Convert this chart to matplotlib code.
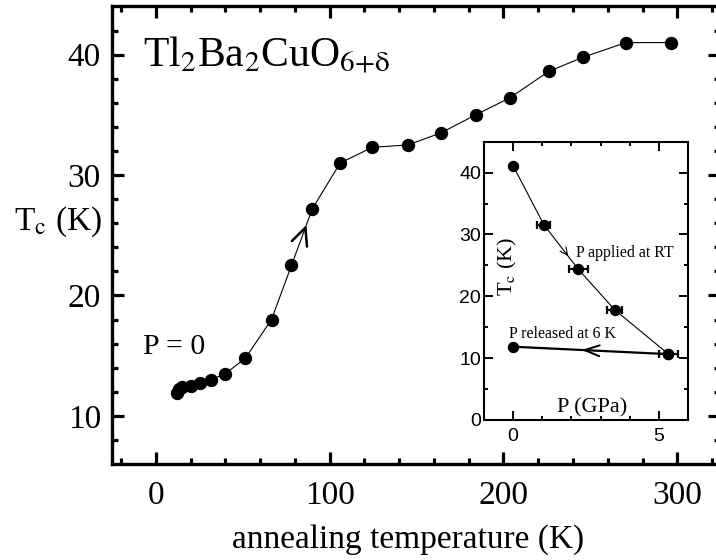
import matplotlib
matplotlib.use('Agg')
import matplotlib.pyplot as plt

plt.rcParams['font.family'] = ['Liberation Serif', 'DejaVu Serif']
plt.rcParams['mathtext.fontset'] = 'stix'

# main panel: Tc vs annealing temperature at P = 0
anneal_T = [12, 13.3, 14.8, 20, 25.5, 31.7, 40, 51.5, 66.5, 78, 90, 106,
            124.5, 145, 164, 184, 203.5, 226, 246, 270.5, 296.5]
tc_anneal = [11.9, 12.2, 12.4, 12.45, 12.7, 13.0, 13.5, 14.8, 18.0, 22.5, 27.2, 31.0,
             32.3, 32.5, 33.5, 35.0, 36.4, 38.6, 39.8, 41.0, 41.0]

# inset: Tc vs pressure
p_applied = [0, 1.05, 2.23, 3.49, 5.33]
tc_applied = [41.1, 31.6, 24.4, 17.8, 10.65]
p_err = [0, 0.22, 0.33, 0.26, 0.32]
p_released = [5.33, 0]
tc_released = [10.65, 11.85]

fig = plt.figure(figsize=(7.16, 5.6), dpi=100)
ax = fig.add_axes([112/716, 96/560, 608/716, 458/560])

ax.plot(anneal_T, tc_anneal, color='black', lw=0.8, marker='o', ms=8.6,
        mfc='black', mec='black')
ax.annotate('', xy=(86.6, 25.86), xytext=(85.6, 25.47),
            arrowprops=dict(arrowstyle='->,head_length=12.4,head_width=5.8',
                            mutation_scale=1, lw=1.8, color='black',
                            shrinkA=0, shrinkB=0))

ax.set_xlim(-25.3, 324.6)
ax.set_ylim(6.0, 44.04)
ax.set_xticks([0, 100, 200, 300])
ax.set_xticks(range(-20, 321, 20), minor=True)
ax.set_yticks([10, 20, 30, 40])
ax.set_yticks(range(8, 44, 2), minor=True)
ax.tick_params(which='both', direction='in', top=True, right=True,
               labelsize=24)
ax.tick_params(which='major', length=8.6, width=2.3)
ax.tick_params(which='minor', length=4.2, width=2.3)
ax.tick_params(axis='x', pad=12)
ax.tick_params(axis='y', pad=8)
for s in ax.spines.values():
    s.set_linewidth(2.4)

ax.text(-7.4, 39.0, r'Tl$_2$Ba$_2$CuO$_{\mathrm{6{+}δ}}$', fontsize=30,
        va='baseline', ha='left')
ax.text(-7.4, 15.15, 'P = 0', fontsize=21.5, va='baseline', ha='left')
fig.text(57.5/716, (560-230)/560, r'T$_\mathrm{c}$ (K)', fontsize=24,
         ha='center', va='baseline')
fig.text(408.5/716, 12/560, 'annealing temperature (K)', fontsize=24,
         ha='center', va='baseline')

# inset
ins = fig.add_axes([484/716, 140/560, 204.3/716, 278.3/560])
ins.errorbar(p_applied, tc_applied, xerr=p_err, color='black', lw=0.8,
             marker='o', ms=7.2, ecolor='black', elinewidth=1.6,
             capsize=3.2, capthick=1.6)
ins.plot(p_released, tc_released, color='black', lw=1.6, marker='o', ms=7.2)
ins.annotate('', xy=(1.89, 26.5), xytext=(1.82, 26.95),
             arrowprops=dict(arrowstyle='->,head_length=5.4,head_width=2.6',
                             mutation_scale=1, lw=0.8, color='black',
                             shrinkA=0, shrinkB=0))
ins.annotate('', xy=(2.35, 11.32), xytext=(2.5, 11.29),
             arrowprops=dict(arrowstyle='->,head_length=10.8,head_width=3.9',
                             mutation_scale=1, lw=1.4, color='black',
                             shrinkA=0, shrinkB=0))

ins.set_xlim(-1, 6.01)
ins.set_ylim(0, 45)
ins.set_xticks([0, 5])
ins.set_xticks(range(0, 7), minor=True)
ins.set_yticks([0, 10, 20, 30, 40])
ins.set_yticks(range(5, 45, 10), minor=True)
ins.tick_params(which='both', direction='in', top=True, right=True,
                labelsize=14, labelfontfamily='Liberation Sans')
ins.tick_params(which='major', length=6.5, width=1.4)
ins.tick_params(which='minor', length=3.2, width=1.4)
ins.tick_params(axis='x', pad=6)
ins.tick_params(axis='y', pad=2)
for s in ins.spines.values():
    s.set_linewidth(1.5)

ins.text(2.15, 26.4, 'P applied at RT', fontsize=11.5, va='baseline', ha='left')
ins.text(-0.15, 13.25, 'P released at 6 K', fontsize=11.5, va='baseline',
         ha='left')
ins.text(2.7, 1.23, 'P (GPa)', fontsize=16, va='baseline', ha='center')
ins.text(-0.18, 24.8, r'T$_\mathrm{c}$ (K)', fontsize=16, va='center',
         ha='center', rotation=90)

plt.savefig('out.png', dpi=100)
